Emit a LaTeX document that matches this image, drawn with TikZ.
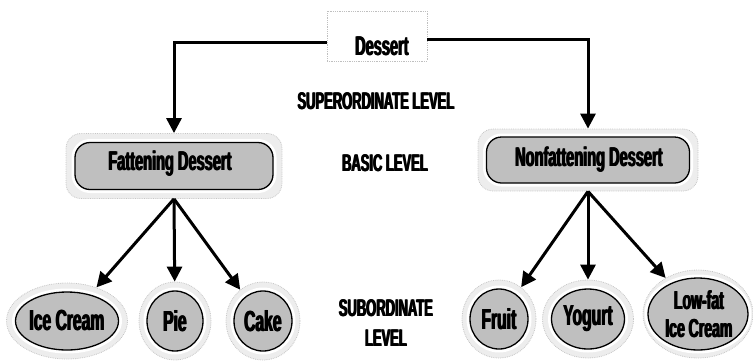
\documentclass[tikz,border=0pt]{standalone}
\usepackage{fontspec}
\usetikzlibrary{arrows.meta,shapes.geometric}
\newfontfamily\cond[FakeStretch=0.54]{Liberation Sans}
% heavy condensed lettering: bold face overprinted with small horizontal offsets
\newcommand\hv[1]{\rlap{#1}\kern0.6pt\rlap{#1}\kern0.6pt#1}
\tikzset{
  lbl/.style={font=\cond\bfseries\fontsize{24}{30}\selectfont, inner sep=0pt, align=center},
  ntext/.style={font=\cond\bfseries\fontsize{27}{27}\selectfont, inner sep=0pt},
  etext/.style={font=\cond\bfseries\fontsize{29}{26}\selectfont, inner sep=0pt, align=center},
  arr/.style={line width=3pt, -{Triangle[length=15pt,width=15pt]}},
  halo/.style={fill=gray!14, draw=gray!45, densely dotted, line width=0.8pt, inner sep=0pt},
  core/.style={fill=gray!50, draw=black, line width=1.3pt,
    preaction={draw=white, line width=7pt}, inner sep=0pt},
  dbox/.style={draw=gray!50, densely dotted, line width=0.8pt, minimum width=100pt, minimum height=50pt},
  rbox/.style={rectangle, rounded corners=15pt},
  ell/.style={ellipse}
}
\begin{document}
\begin{tikzpicture}[x=1pt,y=-1pt]
\useasboundingbox (0,0) rectangle (753,360);

% top category
\node[dbox] (dessert) at (377,36) {};
\node[ntext] (dtext) at (382,46) {\hv{Dessert}};

% basic level boxes
\node[halo, rbox, minimum width=216pt, minimum height=65pt] (fat) at (174,166) {};
\node[core, rbox, minimum width=198pt, minimum height=47pt] (fatcore) at (174,166) {};
\node[ntext] (fattext) at (170,164) {\hv{Fattening Dessert}};

\node[halo, rbox, minimum width=220pt, minimum height=62pt] (nonfat) at (588,160) {};
\node[core, rbox, minimum width=203pt, minimum height=46pt] (nonfatcore) at (588,160) {};
\node[ntext] (nonfattext) at (589,160) {\hv{Nonfattening Dessert}};

% subordinate level ellipses
\node[halo, ell, minimum width=121pt, minimum height=76pt] (ice) at (67,321) {};
\node[core, ell, minimum width=103pt, minimum height=58pt] (icecore) at (67,321) {};
\node[etext] (icetext) at (67,321) {\hv{Ice Cream}};

\node[halo, ell, minimum width=72pt, minimum height=78pt] (pie) at (175,321) {};
\node[core, ell, minimum width=56pt, minimum height=60pt] (piecore) at (175,321) {};
\node[etext] (pietext) at (175,321) {\hv{Pie}};

\node[halo, ell, minimum width=74pt, minimum height=78pt] (cake) at (263,321) {};
\node[core, ell, minimum width=58pt, minimum height=60pt] (cakecore) at (263,321) {};
\node[etext] (caketext) at (263,321) {\hv{Cake}};

\node[halo, ell, minimum width=74pt, minimum height=78pt] (fruit) at (499,319) {};
\node[core, ell, minimum width=58pt, minimum height=60pt] (fruitcore) at (499,319) {};
\node[etext] (fruittext) at (499,319) {\hv{Fruit}};

\node[halo, ell, minimum width=91pt, minimum height=78pt] (yogurt) at (588,319) {};
\node[core, ell, minimum width=73pt, minimum height=60pt] (yogurtcore) at (588,319) {};
\node[etext] (yogurttext) at (588,319) {\hv{Yogurt}};

\node[halo, ell, minimum width=110pt, minimum height=88pt] (lowfat) at (698,314) {};
\node[core, ell, minimum width=100pt, minimum height=72pt] (lowfatcore) at (698,314) {};
\node[etext, font=\cond\bfseries\fontsize{26}{28}\selectfont] (lowfattext) at (699,314) {\hv{Low-fat}\\\hv{Ice Cream}};

% level labels
\node[lbl] (superlbl) at (376,101) {\hv{SUPERORDINATE LEVEL}};
\node[lbl] (basiclbl) at (385,163) {\hv{BASIC LEVEL}};
\node[lbl] (sublbl) at (386,323) {\hv{SUBORDINATE}\\\hv{LEVEL}};

% connectors
\draw[arr] ([yshift=-6pt]dessert.west) -| (fat.north);
\draw[arr] ([yshift=-3pt]dessert.east) -| (nonfat.north);

\draw[arr] (fat.south) -- (ice);
\draw[arr] (fat.south) -- (pie);
\draw[arr] (fat.south) -- (cake);

\draw[arr] (nonfat.south) -- (fruit);
\draw[arr] (nonfat.south) -- (yogurt);
\draw[arr] (nonfat.south) -- (lowfat);
\end{tikzpicture}
\end{document}
